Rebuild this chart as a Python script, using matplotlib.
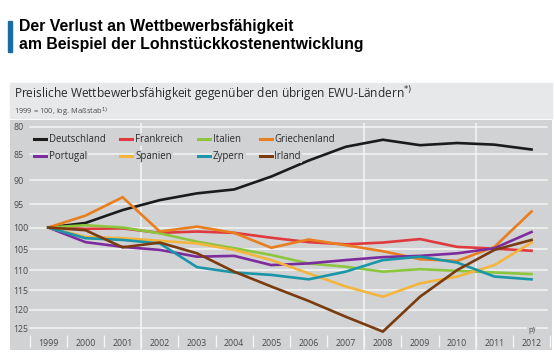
import matplotlib
matplotlib.use("Agg")
import matplotlib.pyplot as plt
from matplotlib.patches import Rectangle
from matplotlib.ticker import NullLocator

W, H = 554, 352
PLOT_BG = "#d1d2d3"
BAND_BG = "#e7e8e9"
GRID = "#f4f4f4"
TXT = "#2b2b2b"
TICK = "#4a4a4a"
FONT = "Open Sans"

YEARS = list(range(1999, 2013))
YTICKS = [80, 85, 90, 95, 100, 105, 110, 115, 120, 125]
FULL_VLINES = [2001.5, 2007.5, 2010.5]

COUNTRIES = ["Deutschland", "Frankreich", "Italien", "Griechenland",
             "Portugal", "Spanien", "Zypern", "Irland"]
COLORS = ["#1b1b1b", "#e0393e", "#8cc63e", "#e87e1e",
          "#7d2c9e", "#f4b53f", "#1a96a8", "#7a3b10"]

deutschland = [100, 99.0, 96.2, 94.1, 92.7, 91.9, 89.3, 86.2, 83.6, 82.3, 83.3, 82.9, 83.2, 84.1]
frankreich = [100, 100.3, 100.2, 101.2, 100.9, 101.2, 102.3, 103.3, 103.8, 103.4, 102.6, 104.4, 104.8, 105.3]
italien = [100, 99.5, 100.0, 101.3, 103.2, 104.7, 106.3, 108.3, 109.1, 110.3, 109.7, 110.1, 110.5, 110.9]
griechenland = [100, 97.4, 93.5, 100.9, 99.8, 101.2, 104.6, 102.7, 104.0, 105.4, 107.3, 107.7, 104.4, 96.5]
portugal = [100, 103.3, 104.4, 105.1, 106.7, 106.5, 108.7, 108.3, 107.5, 106.8, 106.5, 105.9, 104.7, 101.0]
spanien = [100, 102.1, 102.4, 103.0, 103.6, 105.1, 107.5, 110.7, 114.0, 116.6, 113.2, 111.5, 108.7, 103.4]
zypern = [100, 102.4, 102.8, 103.6, 109.2, 110.5, 111.1, 112.2, 110.3, 107.5, 106.7, 108.1, 111.5, 112.2]
irland = [100, 100.6, 104.5, 103.4, 105.9, 110.3, 114.0, 117.7, 121.9, 126.0, 116.6, 109.9, 105.1, 102.8]
SERIES = [deutschland, frankreich, italien, griechenland,
          portugal, spanien, zypern, irland]

fig = plt.figure(figsize=(W / 100, H / 100), dpi=100)
fig.patch.set_facecolor("white")


def px(x0, y0, x1, y1):
    # pixel box (top-left origin) -> figure fraction rect
    return [x0 / W, 1 - y1 / H, (x1 - x0) / W, (y1 - y0) / H]


# title with blue bar
fig.patches.append(Rectangle((8 / W, 1 - 52 / H), 4 / W, 31 / H,
                             transform=fig.transFigure, color="#1c6aa6"))
fig.text(19 / W, 1 - 26 / H, "Der Verlust an Wettbewerbsfähigkeit",
         ha="left", va="center", fontsize=11.4, fontweight="bold",
         family="Liberation Sans", color="black")
fig.text(19 / W, 1 - 44 / H, "am Beispiel der Lohnstückkostenentwicklung",
         ha="left", va="center", fontsize=11.4, fontweight="bold",
         family="Liberation Sans", color="black")

# header band
fig.patches.append(Rectangle((10 / W, 1 - 118 / H), 542 / W, 35 / H,
                             transform=fig.transFigure, color=BAND_BG))
fig.text(14 / W, 1 - 94 / H,
         "Preisliche Wettbewerbsfähigkeit gegenüber den übrigen EWU-Ländern$^{*)}$",
         ha="left", va="center", fontsize=8.6, family=FONT, color=TXT)
fig.text(14 / W, 1 - 112 / H, "1999 = 100, log. Maßstab$^{1)}$",
         ha="left", va="center", fontsize=5.4, family=FONT, color=TICK)

# main plot
ax = fig.add_axes(px(10, 120, 552, 350))
ax.set_facecolor(PLOT_BG)
for s in ax.spines.values():
    s.set_visible(False)
ax.set_yscale("log")
ax.set_ylim(131.25, 78.77)
ax.set_xlim(1997.97, 2012.55)
ax.yaxis.set_minor_locator(NullLocator())
ax.set_yticks(YTICKS)
ax.set_yticklabels([str(v) for v in YTICKS])
ax.tick_params(axis="y", length=0, pad=-2.2, labelsize=6.3, labelcolor=TICK)
for lab in ax.get_yticklabels():
    lab.set_ha("left")
    lab.set_family(FONT)
ax.set_xticks([])

x_lo = (30 - 10) / 542
x_hi = (547 - 10) / 542
for v in YTICKS:
    ax.axhline(v, xmin=x_lo, xmax=x_hi, color=GRID, lw=1.1, zorder=1)
ax.vlines(FULL_VLINES, 0, (350 - 123) / 230, color=GRID, lw=1.1,
          transform=ax.get_xaxis_transform(), zorder=1)
seps = [y - 0.5 for y in YEARS] + [YEARS[-1] + 0.5]
ax.vlines(seps, 0.013, 0.065, color=GRID, lw=1.0,
          transform=ax.get_xaxis_transform(), zorder=1)
for yr in YEARS:
    ax.text(yr, (350 - 344) / 230, str(yr), transform=ax.get_xaxis_transform(),
            ha="center", va="center", fontsize=6.3, family=FONT, color=TICK)
ax.text(YEARS[-1], (350 - 331) / 230, "p)", transform=ax.get_xaxis_transform(),
        ha="center", va="center", fontsize=5.5, family=FONT, color=TICK,
        bbox=dict(boxstyle="square,pad=0.15", fc=PLOT_BG, ec="none"))

handles = []
for name, vals, col in zip(COUNTRIES, SERIES, COLORS):
    ln, = ax.plot(YEARS, vals, color=col, lw=1.9, label=name, zorder=3,
                  solid_joinstyle="miter")
    handles.append(ln)

# legend fills column-wise: reorder so rows read left to right
order = [0, 4, 1, 5, 2, 6, 3, 7]
leg = ax.legend([handles[i] for i in order], [COUNTRIES[i] for i in order],
                loc="upper left", bbox_to_anchor=(34 / W, 1 - 134 / H),
                bbox_transform=fig.transFigure, ncol=4, frameon=False,
                prop={"family": FONT, "size": 6.9}, handlelength=1.3,
                handletextpad=0.25, columnspacing=1.55, labelspacing=0.65,
                borderpad=0, borderaxespad=0)
for t in leg.get_texts():
    t.set_color(TXT)
    t.set_bbox(dict(boxstyle="square,pad=0.1", fc=PLOT_BG, ec="none"))
for h in leg.get_lines():
    h.set_linewidth(2.2)

fig.savefig("out.png", dpi=100)
